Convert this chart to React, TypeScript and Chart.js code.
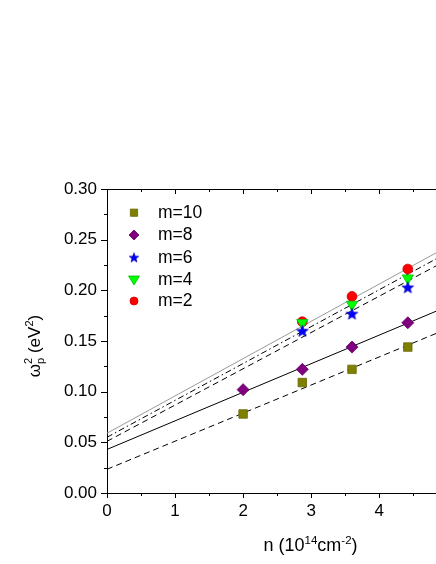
import { useEffect, useRef } from "react";
import { Chart, registerables } from "chart.js";
Chart.register(...registerables);

// ── Data ─────────────────────────────────────────────────────────────────────

const N_ALL = [2.0, 2.87, 3.6, 4.42];
const N_TAIL = [2.87, 3.6, 4.42];

const M10 = [0.078, 0.109, 0.122, 0.144];
const M8 = [0.102, 0.122, 0.144, 0.168];
const M6 = [0.16, 0.177, 0.203];
const M4 = [0.168, 0.186, 0.212];
const M2 = [0.169, 0.194, 0.221];

// linear fits, values at n = 0 and n = 5
const FIT_N = [0, 5];
const FIT10 = [0.0234, 0.162];
const FIT8 = [0.043, 0.184];
const FIT6 = [0.051, 0.23];
const FIT4 = [0.055, 0.237];
const FIT2 = [0.059, 0.243];

const LEGEND_LABELS = ["m=10", "m=8", "m=6", "m=4", "m=2"];

// ── Colours ──────────────────────────────────────────────────────────────────

const OLIVE = "#808000";
const PURPLE = "#800080";
const BLUE = "#0000FF";
const GREEN = "#00FF00";
const RED = "#FF0000";

const FONT = '"Liberation Sans", Arial, sans-serif';

const pts = (xs: number[], ys: number[]) => xs.map((x, i) => ({ x, y: ys[i] }));

function makeStar(r: number) {
  const c = document.createElement("canvas");
  const s = Math.ceil(r * 2 + 2);
  c.width = s;
  c.height = s;
  const g = c.getContext("2d")!;
  g.beginPath();
  for (let i = 0; i < 10; i++) {
    const rad = (i % 2 === 0 ? r : r * 0.42);
    const a = -Math.PI / 2 + (i * Math.PI) / 5;
    const px = s / 2 + Math.cos(a) * rad;
    const py = s / 2 + 0.6 + Math.sin(a) * rad;
    if (i === 0) g.moveTo(px, py);
    else g.lineTo(px, py);
  }
  g.closePath();
  g.fillStyle = BLUE;
  g.fill();
  g.strokeStyle = "#0000B0";
  g.lineWidth = 0.7;
  g.stroke();
  return c;
}

// ── Rich text helper (super/subscripts) ─────────────────────────────────────

type Seg = { t: string; size: number; dy?: number; stay?: boolean };

function richWidth(ctx: CanvasRenderingContext2D, segs: Seg[]) {
  let w = 0;
  for (const s of segs) {
    ctx.font = `${s.size}px ${FONT}`;
    if (!s.stay) w += ctx.measureText(s.t).width;
  }
  return w;
}

function drawRich(ctx: CanvasRenderingContext2D, segs: Seg[], x: number, y: number) {
  let cx = x;
  for (const s of segs) {
    ctx.font = `${s.size}px ${FONT}`;
    ctx.fillText(s.t, cx, y + (s.dy ?? 0));
    if (!s.stay) cx += ctx.measureText(s.t).width;
  }
}

const X_TITLE: Seg[] = [
  { t: "n (10", size: 18 },
  { t: "14", size: 11.5, dy: -7.5 },
  { t: "cm", size: 18 },
  { t: "-2", size: 11.5, dy: -7.5 },
  { t: ")", size: 18 },
];

const Y_TITLE: Seg[] = [
  { t: "ω", size: 17 },
  { t: "p", size: 11, dy: 4, stay: true },
  { t: "2", size: 11, dy: -8 },
  { t: " (eV", size: 17 },
  { t: "2", size: 11, dy: -7 },
  { t: ")", size: 17 },
];

// ── Legend marker drawing ────────────────────────────────────────────────────

function marker(ctx: CanvasRenderingContext2D, kind: number, x: number, y: number, star: HTMLCanvasElement) {
  ctx.save();
  ctx.lineWidth = 0.8;
  ctx.beginPath();
  if (kind === 0) {
    ctx.rect(x - 3.6, y - 3.6, 7.2, 7.2);
    ctx.fillStyle = OLIVE;
    ctx.strokeStyle = "#666600";
  } else if (kind === 1) {
    ctx.moveTo(x, y - 5); ctx.lineTo(x + 5, y); ctx.lineTo(x, y + 5); ctx.lineTo(x - 5, y);
    ctx.closePath();
    ctx.fillStyle = PURPLE;
    ctx.strokeStyle = "#600060";
  } else if (kind === 2) {
    ctx.drawImage(star, x - star.width / 2, y - star.height / 2);
    ctx.restore();
    return;
  } else if (kind === 3) {
    ctx.moveTo(x - 5.5, y - 3.5); ctx.lineTo(x + 5.5, y - 3.5); ctx.lineTo(x, y + 5.5);
    ctx.closePath();
    ctx.fillStyle = GREEN;
    ctx.strokeStyle = "#00C000";
  } else {
    ctx.arc(x, y, 4, 0, Math.PI * 2);
    ctx.fillStyle = RED;
    ctx.strokeStyle = "#D00000";
  }
  ctx.fill();
  ctx.stroke();
  ctx.restore();
}

// ── Component ────────────────────────────────────────────────────────────────

export default function App() {
  const ref = useRef<HTMLCanvasElement>(null);
  const chartRef = useRef<Chart | null>(null);

  useEffect(() => {
    if (!ref.current) return;
    chartRef.current?.destroy();

    const star = makeStar(6.2);
    const legendStar = makeStar(5);

    const frame = {
      id: "frame",
      afterDraw(chart: Chart) {
        const { ctx, chartArea: a } = chart;
        const x = chart.scales.x;
        const y = chart.scales.y;
        ctx.save();
        ctx.strokeStyle = "#000";
        ctx.lineWidth = 1;
        ctx.beginPath();
        // top frame line
        ctx.moveTo(a.left, Math.round(a.top) + 0.5);
        ctx.lineTo(a.right, Math.round(a.top) + 0.5);
        // x ticks (bottom outward, top inward)
        for (let i = 0; i <= 10; i++) {
          const px = Math.round(x.getPixelForValue(i * 0.5)) + 0.5;
          const len = i % 2 === 0 ? 5 : 3;
          ctx.moveTo(px, a.bottom);
          ctx.lineTo(px, a.bottom + len);
          ctx.moveTo(px, a.top);
          ctx.lineTo(px, a.top + len);
        }
        // y ticks (left outward)
        for (let i = 0; i <= 12; i++) {
          const py = Math.round(y.getPixelForValue(i * 0.025)) + 0.5;
          const len = i % 2 === 0 ? 6 : 3;
          ctx.moveTo(a.left - len, py);
          ctx.lineTo(a.left, py);
        }
        ctx.stroke();

        // axis titles
        ctx.fillStyle = "#000";
        ctx.textBaseline = "alphabetic";
        ctx.textAlign = "left";
        const xw = richWidth(ctx, X_TITLE);
        drawRich(ctx, X_TITLE, 310.5 - xw / 2, 551);

        ctx.save();
        ctx.translate(40, 346);
        ctx.rotate(-Math.PI / 2);
        const yw = richWidth(ctx, Y_TITLE);
        drawRich(ctx, Y_TITLE, -yw / 2, 0);
        ctx.restore();

        // legend
        const rows = [212.7, 235, 257.3, 279.5, 301];
        ctx.font = `17.5px ${FONT}`;
        ctx.textBaseline = "middle";
        LEGEND_LABELS.forEach((lbl, i) => {
          marker(ctx, i, 134, rows[i], legendStar);
          ctx.fillStyle = "#000";
          ctx.fillText(lbl, 158, rows[i] + 0.5);
        });
        ctx.restore();
      },
    };

    const fit = (ys: number[], color: string, dash: number[], width = 1) => ({
      data: pts(FIT_N, ys),
      showLine: true,
      borderColor: color,
      borderWidth: width,
      borderDash: dash,
      pointRadius: 0,
      fill: false,
    });

    chartRef.current = new Chart(ref.current, {
      type: "scatter",
      data: {
        datasets: [
          { label: "m=10", data: pts(N_ALL, M10), pointStyle: "rect", pointRadius: 6, backgroundColor: OLIVE, borderColor: "#666600", borderWidth: 0.8 },
          { label: "m=8", data: pts(N_ALL, M8), pointStyle: "rectRot", pointRadius: 6, backgroundColor: PURPLE, borderColor: "#600060", borderWidth: 0.8 },
          { label: "m=6", data: pts(N_TAIL, M6), pointStyle: star, pointRadius: 6 },
          { label: "m=4", data: pts(N_TAIL, M4), pointStyle: "triangle", rotation: 180, pointRadius: 6.5, backgroundColor: GREEN, borderColor: "#00C000", borderWidth: 0.8 },
          { label: "m=2", data: pts(N_TAIL, M2), pointStyle: "circle", pointRadius: 4.9, backgroundColor: RED, borderColor: "#D00000", borderWidth: 0.8 },
          { label: "fit m=10", ...fit(FIT10, "#000", [6, 4]) },
          { label: "fit m=8", ...fit(FIT8, "#000", []) },
          { label: "fit m=6", ...fit(FIT6, "#000", [6, 4]) },
          { label: "fit m=4", ...fit(FIT4, "#000", [6, 3, 1.5, 3]) },
          { label: "fit m=2", ...fit(FIT2, "#9A9A9A", []) },
        ] as any,
      },
      options: {
        animation: false,
        responsive: true,
        maintainAspectRatio: false,
        layout: { padding: { top: 189, right: 12, left: 0, bottom: 0 } },
        plugins: { legend: { display: false }, tooltip: { enabled: false } },
        scales: {
          x: {
            type: "linear",
            min: 0,
            max: 5,
            ticks: { stepSize: 1, color: "#000", font: { family: FONT, size: 17 }, padding: 8 },
            grid: { display: false, drawTicks: false },
            border: { display: true, color: "#000", width: 1 },
            afterFit: (s: any) => { s.height = 71; },
          },
          y: {
            min: 0,
            max: 0.3,
            ticks: {
              stepSize: 0.05,
              color: "#000",
              font: { family: FONT, size: 17 },
              padding: 10,
              callback: (v) => Number(v).toFixed(2),
            },
            grid: { display: false, drawTicks: false },
            border: { display: true, color: "#000", width: 1 },
            afterFit: (s: any) => { s.width = 107; },
          },
        },
      },
      plugins: [frame],
    });

    return () => chartRef.current?.destroy();
  }, []);

  return (
    <div style={{ position: "fixed", left: 0, top: 0, width: 436, height: 564, overflow: "hidden", background: "#fff" }}>
      <div style={{ position: "relative", width: 460, height: 564 }}>
        <canvas ref={ref} />
      </div>
    </div>
  );
}
